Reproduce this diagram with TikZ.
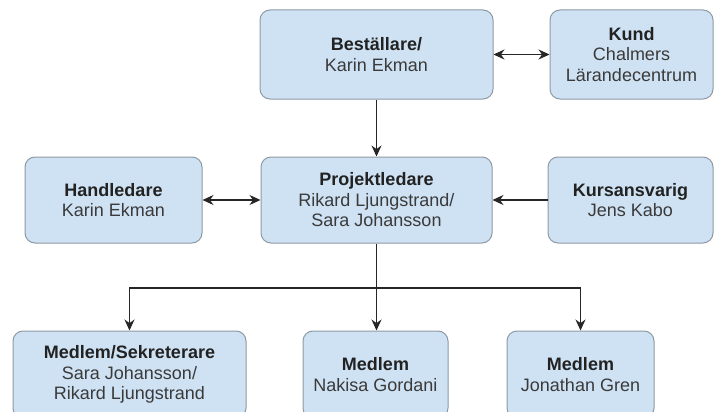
\documentclass[tikz,border=0pt]{standalone}
\usepackage{fontspec}
\setmainfont{Liberation Sans}
\usetikzlibrary{arrows.meta}
\definecolor{boxfill}{HTML}{CFE2F3}
\definecolor{boxline}{HTML}{8E9AA4}
\definecolor{titlecol}{HTML}{222222}
\definecolor{namecol}{HTML}{3A3A3A}
\tikzset{
  orgbox/.style={draw=boxline, line width=1pt, fill=boxfill, rounded corners=10pt,
    inner sep=0pt, align=center, text=namecol,
    font=\fontsize{18}{20.5}\selectfont},
  conn/.style={line width=1.1pt, draw=black!85},
  tip/.style={-{Stealth[length=11pt,width=10pt]}},
  dtip/.style={{Stealth[length=11pt,width=10pt]}-{Stealth[length=11pt,width=10pt]}}
}
\newcommand{\ttl}[1]{{\bfseries\color{titlecol}#1}}
\begin{document}
\begin{tikzpicture}[x=1pt,y=-1pt]
\clip (0,0) rectangle (715,412);
\fill[white] (0,0) rectangle (715,412);
\node[orgbox, minimum width=233pt, minimum height=89pt] (best) at (376.5,54.5) {\ttl{Beställare/}\\Karin Ekman};
\node[orgbox, minimum width=163pt, minimum height=89pt] (kund) at (631.5,54.5) {\ttl{Kund}\\Chalmers\\Lärandecentrum};
\node[orgbox, minimum width=177pt, minimum height=86pt] (hand) at (113.5,200) {\ttl{Handledare}\\Karin Ekman};
\node[orgbox, minimum width=231pt, minimum height=86pt] (proj) at (376.5,200) {\ttl{Projektledare}\\Rikard Ljungstrand/\\Sara Johansson};
\node[orgbox, minimum width=165pt, minimum height=86pt] (kurs) at (630.5,200) {\ttl{Kursansvarig}\\Jens Kabo};
\node[orgbox, minimum width=233pt, minimum height=87pt] (ms) at (129.5,374.5) {\ttl{Medlem/Sekreterare}\\Sara Johansson/\\Rikard Ljungstrand};
\node[orgbox, minimum width=145pt, minimum height=87pt] (m1) at (375.5,374.5) {\ttl{Medlem}\\Nakisa Gordani};
\node[orgbox, minimum width=147pt, minimum height=87pt] (m2) at (580.5,374.5) {\ttl{Medlem}\\Jonathan Gren};
\coordinate (split) at (376.5,288);
\draw[conn,dtip] (best.east) -- (kund.west);
\draw[conn,dtip] (hand.east) -- (proj.west);
\draw[conn,tip] (kurs.west) -- (proj.east);
\draw[conn,tip] (best.south) -- (proj.north);
\draw[conn] (proj.south) -- (split);
\draw[conn,tip] (split) -| (ms.north);
\draw[conn,tip] (split) -| (m2.north);
\draw[conn,tip] (split) -- (m1.north -| split);
\end{tikzpicture}
\end{document}
